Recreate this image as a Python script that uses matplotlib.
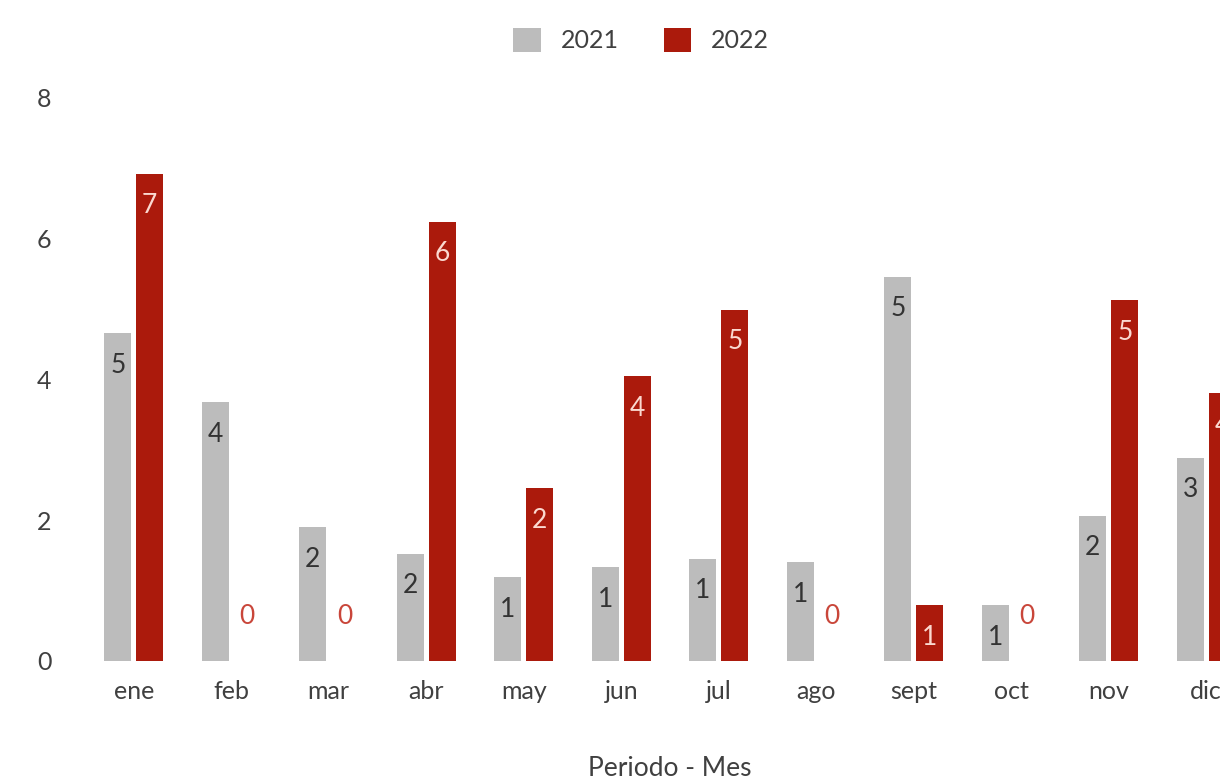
import numpy as np
import matplotlib.pyplot as plt

plt.rcParams['font.family'] = ['Lato', 'DejaVu Sans']

# data
meses = ['ene', 'feb', 'mar', 'abr', 'may', 'jun', 'jul', 'ago', 'sept', 'oct', 'nov', 'dic']
v2021 = [4.65, 3.67, 1.90, 1.52, 1.19, 1.33, 1.45, 1.40, 5.45, 0.79, 2.06, 2.88]
v2022 = [6.91, 0.0, 0.0, 6.23, 2.45, 4.04, 4.98, 0.0, 0.79, 0.0, 5.12, 3.80]

gris = '#bcbcbc'
rojo = '#ab1a0c'

fig = plt.figure(figsize=(12.2, 7.83), dpi=100)
# axes runs slightly off the right edge, as in the reference
ax = fig.add_axes([85 / 1220, 122 / 783, 1170 / 1220, 564 / 783])

x = np.arange(len(meses))
w = 0.277
off = 0.164
b1 = ax.bar(x - off, v2021, w, color=gris, label='2021')
b2 = ax.bar(x + off, v2022, w, color=rojo, label='2022')

# value labels
for xi, v in zip(x, v2021):
    if v > 0:
        ax.annotate(f'{round(v)}', (xi - off, v), xytext=(0, -32), textcoords='offset pixels',
                    ha='center', va='center', fontsize=19, color='#333333')
for xi, v in zip(x, v2022):
    if v > 0:
        ax.annotate(f'{round(v)}', (xi + off, v), xytext=(0, -32), textcoords='offset pixels',
                    ha='center', va='center', fontsize=19, color='#fbd9d0')
    else:
        ax.annotate('0', (xi + off, 0), xytext=(0, 45), textcoords='offset pixels',
                    ha='center', va='center', fontsize=19, color='#c9463a')

ax.set_xlim(-0.5, len(meses) - 0.5)
ax.set_ylim(0, 8)
ax.set_yticks([0, 2, 4, 6, 8])
ax.set_xticks(x)
ax.set_xticklabels(meses)
ax.tick_params(axis='y', length=0, pad=24, labelsize=18, labelcolor='#404040')
ax.tick_params(axis='x', length=0, pad=14, labelsize=18, labelcolor='#404040')
for s in ax.spines.values():
    s.set_visible(False)

ax.set_xlabel('Periodo - Mes', fontsize=19, color='#404040', labelpad=38)

fig.legend(handles=[b1, b2], loc='center', bbox_to_anchor=(641 / 1220, 1 - 40 / 783),
           ncol=2, frameon=False, fontsize=18, handlelength=1.1, handleheight=1.1,
           columnspacing=1.8, handletextpad=0.8, labelcolor='#404040')

fig.savefig('out.png', dpi=100)
